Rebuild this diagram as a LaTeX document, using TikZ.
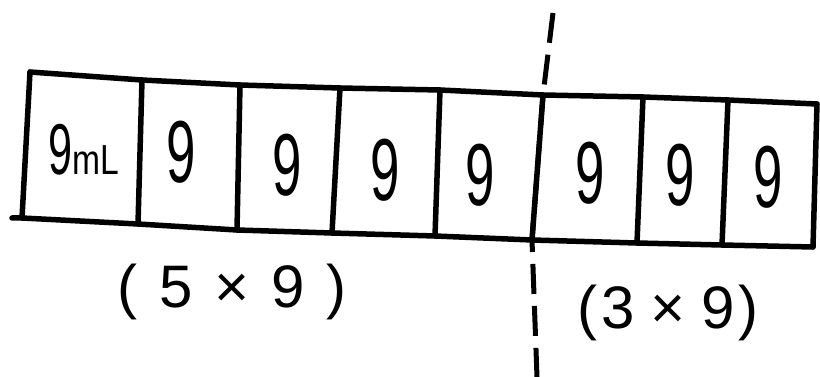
\documentclass[tikz,border=0pt]{standalone}
\usepackage{fontspec}
\setmainfont{Liberation Sans}
\tikzset{
  tape/.style={line width=5.5pt, line cap=round, line join=round, black},
  cut/.style={line width=5pt, dash pattern=on 30pt off 12pt, black},
  digit/.style={inner sep=0pt, font=\fontsize{88}{88}\selectfont},
  lab/.style={inner sep=0pt, font=\fontsize{60}{60}\selectfont}
}
\newcommand{\narrow}[1]{\scalebox{0.6}[1]{#1}}
\begin{document}
\begin{tikzpicture}[x=1pt,y=-1pt]
\useasboundingbox (0,0) rectangle (820,377);
% top corners
\coordinate (t0) at (30,72);
\coordinate (t1) at (142,80);
\coordinate (t2) at (240,85);
\coordinate (t3) at (340,88);
\coordinate (t4) at (440,90);
\coordinate (t5) at (543,95);
\coordinate (t6) at (643,97);
\coordinate (t7) at (728,100);
\coordinate (t8) at (817,104);
% bottom corners
\coordinate (bl) at (12,218);
\coordinate (b0) at (22,218);
\coordinate (b1) at (138,224);
\coordinate (b2) at (237,230);
\coordinate (b3) at (332,233);
\coordinate (b4) at (435,236);
\coordinate (b5) at (532,240);
\coordinate (b6) at (637,243);
\coordinate (b7) at (722,245);
\coordinate (b8) at (813,247);
% outline
\draw[tape] (t0) -- (t1) -- (t2) -- (t3) -- (t4) -- (t5) -- (t6) -- (t7) -- (t8);
\draw[tape] (bl) -- (b0) -- (b1) -- (b2) -- (b3) -- (b4) -- (b5) -- (b6) -- (b7) -- (b8);
\foreach \i in {0,...,8} { \draw[tape] (t\i) -- (b\i); }
% dashed cut line
\coordinate (ctop) at (553,13);
\coordinate (cbot) at (537,377);
\draw[cut] (ctop) -- (t5) -- (b5) -- (cbot);
% labels in boxes
\node[inner sep=0pt] (n1) at (84,150) {\fontsize{72}{72}\selectfont\narrow{9}\fontsize{42}{42}\selectfont\scalebox{0.8}[1]{mL}};
\node[digit] (n2) at (181,152) {\narrow{9}};
\node[digit] (n3) at (287,165) {\narrow{9}};
\node[digit] (n4) at (385,170) {\narrow{9}};
\node[digit] (n5) at (480,175) {\narrow{9}};
\node[digit] (n6) at (590,173) {\narrow{9}};
\node[digit] (n7) at (680,175) {\narrow{9}};
\node[digit] (n8) at (768,177) {\narrow{9}};
% group labels
\node[lab] (g1) at (232,292) {(\hspace{22pt}5\hspace{22pt}×\hspace{22pt}9\hspace{22pt})};
\node[lab] (g2) at (668,313) {(\hspace{4pt}3\hspace{16pt}×\hspace{16pt}9\hspace{4pt})};
\end{tikzpicture}
\end{document}
